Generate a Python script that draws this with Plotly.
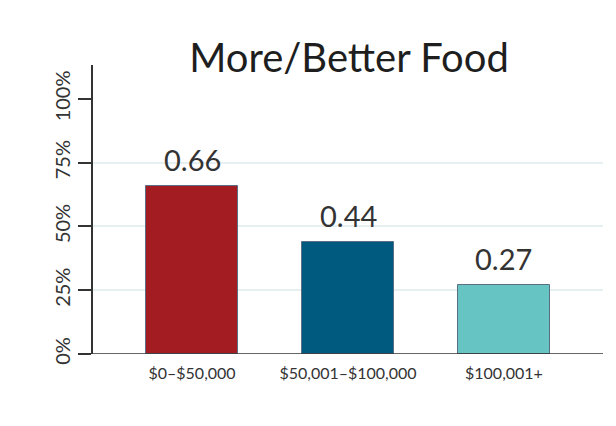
import plotly.graph_objects as go

categories = ["$0–$50,000", "$50,001–$100,000", "$100,001+"]
values = [0.66, 0.44, 0.27]
value_labels = ["0.66", "0.44", "0.27"]
bar_colors = ["#A31C22", "#005A80", "#66C5C2"]
y_tick_vals = [0, 0.25, 0.5, 0.75, 1.0]
y_tick_text = ["0%", "25%", "50%", "75%", "100%"]
grid_vals = [0.25, 0.5, 0.75]

FONT = "Lato"
W, H = 608, 418
L, R, T, B = 85, 13, 57, 72
PW, PH = W - L - R, H - T - B

fig = go.Figure()
fig.add_trace(go.Bar(
    x=list(range(len(categories))),
    y=values,
    marker=dict(color=bar_colors, line=dict(color="#5A6E85", width=1)),
    width=0.59,
    hoverinfo="skip",
))

for i, (v, t) in enumerate(zip(values, value_labels)):
    fig.add_annotation(x=i, y=v, text=t, showarrow=False, yanchor="bottom",
                       yshift=7, font=dict(family=FONT, size=29, color="#333333"))

fig.update_layout(
    width=W, height=H,
    margin=dict(l=L, r=R, t=T, b=B),
    paper_bgcolor="white", plot_bgcolor="white",
    showlegend=False,
    title=dict(text="More/Better Food", x=341 / W, xanchor="center",
               y=1 - 50 / H, yanchor="middle",
               font=dict(family=FONT, size=40, color="#1E1E1E")),
    bargap=0,
)
fig.update_xaxes(
    range=[-0.635, 2.635],
    tickvals=list(range(len(categories))), ticktext=categories,
    ticks="outside", ticklen=5, tickcolor="rgba(0,0,0,0)",
    tickfont=dict(family=FONT, size=16, color="#333333"),
    showgrid=False, showline=False, zeroline=False,
)
fig.update_yaxes(
    range=[0, 1.133],
    tickvals=y_tick_vals, ticktext=y_tick_text, tickangle=-90,
    ticks="outside", ticklen=13, tickcolor="#333333", tickwidth=1.5,
    tickfont=dict(family=FONT, size=20, color="#333333"),
    showline=True, linecolor="#333333", linewidth=1.5,
    showgrid=False, zeroline=False,
    minor=dict(tickvals=grid_vals, showgrid=True, gridcolor="#E6EFF1", gridwidth=1.5, ticklen=0),
)
# x axis baseline (extends left to the 0% tick)
fig.add_shape(type="line", xref="paper", yref="y", x0=-13 / PW, x1=1, y0=0, y1=0,
              line=dict(color="#333333", width=1.5))

fig.write_html("out.html")
